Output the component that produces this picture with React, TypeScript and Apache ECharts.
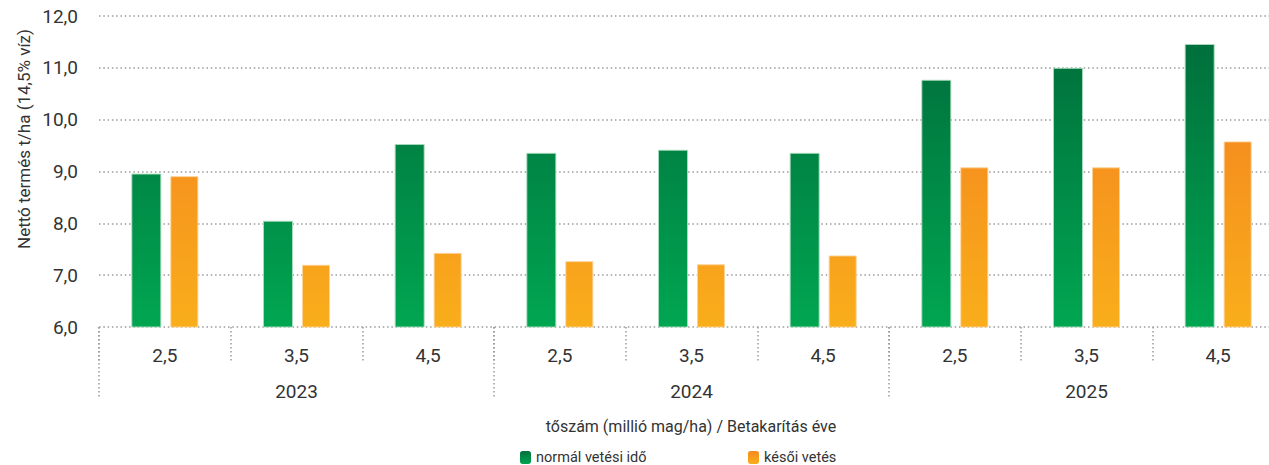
import React, { useEffect, useRef } from "react";
import * as echarts from "echarts";

const years = ["2023", "2024", "2025"];
const densities = ["2,5", "3,5", "4,5"];
const normalSowing = [8.96, 8.05, 9.53, 9.36, 9.42, 9.36, 10.77, 11.0, 11.46];
const lateSowing = [8.91, 7.2, 7.43, 7.27, 7.21, 7.38, 9.08, 9.08, 9.58];
const yTicks = { min: 6, max: 12, interval: 1 };
const normalName = "normál vetési idő";
const lateName = "késői vetés";
const yName = "Nettó termés t/ha (14,5% víz)";
const xName = "tőszám (millió mag/ha) / Betakarítás éve";

const FONT = "Roboto, 'Liberation Sans', sans-serif";
const TXT = "#333333";
const DOT = "#9a9a9a";

export default function App() {
  const ref = useRef<HTMLDivElement>(null);
  useEffect(() => {
    if (!ref.current) return;
    const chart = echarts.init(ref.current, undefined, { renderer: "svg" });
    const categories: string[] = [];
    years.forEach((y) => densities.forEach((d) => categories.push(y + "|" + d)));

    const gridLeft = 99;
    const gridTop = 16;
    const gridHeight = 311;
    const gridWidth = 1185;

    const greenGrad = new echarts.graphic.LinearGradient(0, gridTop, 0, gridTop + gridHeight, [
      { offset: 0, color: "#006a3a" },
      { offset: 1, color: "#00a651" },
    ], true);
    const orangeGrad = new echarts.graphic.LinearGradient(0, gridTop, 0, gridTop + gridHeight, [
      { offset: 0, color: "#f37a20" },
      { offset: 1, color: "#f9ae1b" },
    ], true);
    const greenIcon = new echarts.graphic.LinearGradient(0, 0, 0, 1, [
      { offset: 0, color: "#00703c" },
      { offset: 1, color: "#00a651" },
    ]);
    const orangeIcon = new echarts.graphic.LinearGradient(0, 0, 0, 1, [
      { offset: 0, color: "#f58a1f" },
      { offset: 1, color: "#f9ae1b" },
    ]);

    const legendBase = {
      top: 450,
      padding: 0,
      itemWidth: 11,
      itemHeight: 13,
      textStyle: { fontFamily: FONT, fontSize: 14.5, lineHeight: 15, color: TXT },
      selectedMode: false,
    };

    chart.setOption({
      animation: false,
      textStyle: { fontFamily: FONT, color: TXT },
      grid: { left: gridLeft, top: gridTop, width: gridWidth, height: gridHeight, containLabel: false },
      legend: [
        {
          ...legendBase,
          data: [{ name: normalName, itemStyle: { color: greenIcon, borderWidth: 0 } }],
          left: 520,
        },
        {
          ...legendBase,
          data: [{ name: lateName, itemStyle: { color: orangeIcon, borderWidth: 0 } }],
          left: 748,
        },
      ],
      xAxis: [
        {
          type: "category",
          data: categories,
          position: "bottom",
          axisLine: { show: false },
          axisTick: { show: true, interval: 0, length: 35, lineStyle: { color: DOT, type: [1.5, 2.5], width: 1.5 } },
          axisLabel: {
            interval: 0,
            margin: 19,
            fontSize: 19,
            fontFamily: FONT,
            color: TXT,
            formatter: (v: string) => v.split("|")[1],
          },
        },
        {
          type: "category",
          data: years,
          position: "bottom",
          axisLine: { show: false },
          axisTick: { show: true, interval: 0, length: 71, lineStyle: { color: DOT, type: [1.5, 2.5], width: 1.5 } },
          axisLabel: { interval: 0, margin: 55, fontSize: 19, fontFamily: FONT, color: TXT },
        },
      ],
      yAxis: {
        type: "value",
        min: yTicks.min,
        max: yTicks.max,
        interval: yTicks.interval,
        axisLine: { show: false },
        axisTick: { show: false },
        axisLabel: {
          margin: 21,
          fontSize: 19,
          fontFamily: FONT,
          color: TXT,
          formatter: (v: number) => v.toFixed(1).replace(".", ","),
        },
        splitLine: { show: true, lineStyle: { color: DOT, type: [1.5, 2.8], width: 1.5 } },
      },
      graphic: [
        {
          type: "text",
          x: 24,
          y: 139,
          rotation: Math.PI / 2,
          style: {
            text: yName,
            fontSize: 17,
            fontFamily: FONT,
            fill: TXT,
            align: "center",
            verticalAlign: "middle",
          },
        },
        {
          type: "text",
          x: 691,
          y: 426,
          style: {
            text: xName,
            fontSize: 16,
            fontFamily: FONT,
            fill: TXT,
            align: "center",
            verticalAlign: "middle",
          },
        },
      ],
      series: [
        {
          name: normalName,
          type: "bar",
          xAxisIndex: 0,
          barWidth: 30,
          barGap: "30%",
          data: normalSowing,
          itemStyle: { color: greenGrad, borderColor: "rgba(170,220,190,0.9)", borderWidth: 1 },
        },
        {
          name: lateName,
          type: "bar",
          xAxisIndex: 0,
          barWidth: 28,
          data: lateSowing,
          itemStyle: { color: orangeGrad, borderColor: "rgba(252,210,150,0.9)", borderWidth: 1 },
        },
      ],
    });
    return () => chart.dispose();
  }, []);

  return (
    <div
      style={{ position: "absolute", left: 0, top: 0, width: 1269, height: 465, overflow: "hidden" }}
    >
      <div ref={ref} style={{ width: 1300, height: 465 }} />
    </div>
  );
}
